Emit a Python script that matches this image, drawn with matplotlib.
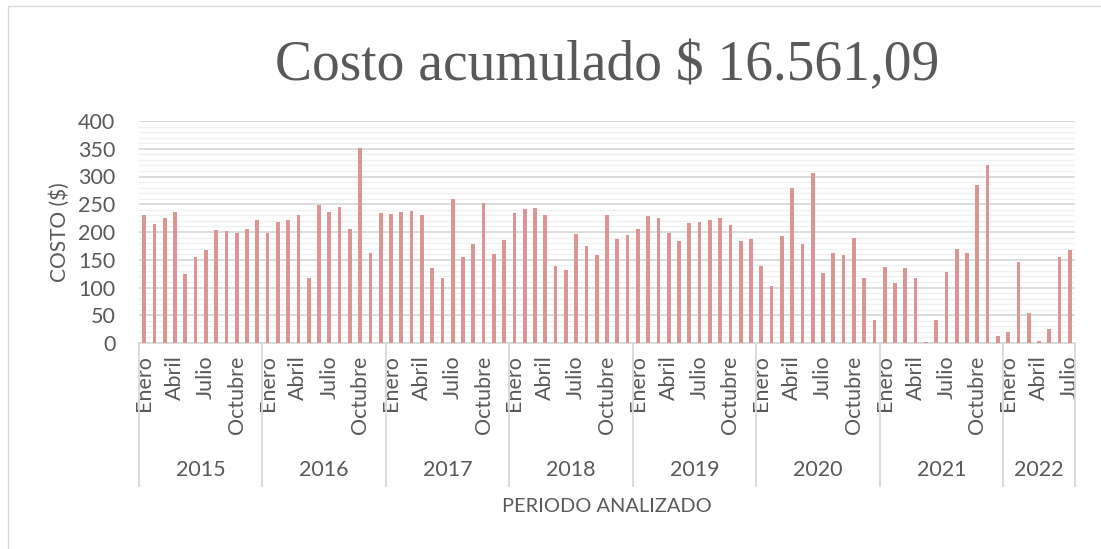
import matplotlib
matplotlib.use("Agg")
import matplotlib.pyplot as plt
from matplotlib.patches import Rectangle
import matplotlib.transforms as mtransforms
import numpy as np

years = ["2015", "2016", "2017", "2018", "2019", "2020", "2021", "2022"]
months = ["Enero", "Febrero", "Marzo", "Abril", "Mayo", "Junio", "Julio",
          "Agosto", "Septiembre", "Octubre", "Noviembre", "Diciembre"]
months_per_year = [12, 12, 12, 12, 12, 12, 12, 7]

cost_2015 = [231, 214.5, 225, 236, 124, 155, 167, 203, 201, 199, 205, 222]
cost_2016 = [198, 217.5, 221, 230, 118, 248, 236, 245, 205, 352, 163, 234]
cost_2017 = [232, 236, 238, 230, 135, 118, 259, 155, 178, 253, 160, 185]
cost_2018 = [234, 241, 243.5, 231, 138, 131, 196, 175, 159, 230, 188, 195]
cost_2019 = [205, 228, 225, 198, 184, 216, 218, 221, 225, 213, 184, 187]
cost_2020 = [139, 103, 193, 280, 179, 306, 127, 162, 158, 190, 117, 41]
cost_2021 = [137, 109, 135, 117, 2.4, 42, 128, 170, 162, 285, 321, 13]
cost_2022 = [20.5, 146, 54, 4, 25, 155, 167]

title = "Costo acumulado $ 16.561,09"
ylabel = "COSTO ($)"
xlabel = "PERIODO ANALIZADO"
shown_months = ["Enero", "Abril", "Julio", "Octubre"]

values = (cost_2015 + cost_2016 + cost_2017 + cost_2018 + cost_2019 +
          cost_2020 + cost_2021 + cost_2022)
labels = []
for y, n in zip(years, months_per_year):
    labels += months[:n]
x = np.arange(len(values))

TXT = "#595959"
BAR = "#D99694"
SANS = ["Lato", "DejaVu Sans"]
FS = 15.5

W, H = 1101, 549
fig = plt.figure(figsize=(W / 100, H / 100), dpi=100)
fig.patches.append(Rectangle((8 / W, -0.1), 1.2, 1 - 6 / H + 0.1,
                             transform=fig.transFigure, fill=False,
                             edgecolor="#D9D9D9", linewidth=1.0))

ax = fig.add_axes([139 / W, 1 - 343 / H, (1075 - 139) / W, (343 - 121) / H])
ax.bar(x, values, width=0.36, color=BAR, zorder=3)
ax.set_xlim(-0.5, len(values) - 0.5)
ax.set_ylim(0, 400)
ax.set_yticks(np.arange(0, 401, 50))
ax.set_yticks(np.arange(0, 401, 10), minor=True)
ax.grid(axis="y", which="major", color="#D9D9D9", linewidth=1.3, zorder=1)
ax.grid(axis="y", which="minor", color="#F0F0F0", linewidth=1.0, zorder=0)
ax.tick_params(axis="y", which="both", length=0, pad=17, labelsize=FS,
               labelcolor=TXT)
for t in ax.get_yticklabels():
    t.set_fontfamily(SANS)
for s in ["left", "right", "top"]:
    ax.spines[s].set_visible(False)
ax.spines["bottom"].set_color("#D9D9D9")
ax.spines["bottom"].set_linewidth(1.3)

idx = [i for i, m in enumerate(labels) if m in shown_months]
ax.set_xticks(idx)
ax.set_xticklabels([labels[i] for i in idx], rotation=90, fontsize=FS,
                   color=TXT, family=SANS, va="top", ha="center")
ax.tick_params(axis="x", length=0, pad=9)

trans = mtransforms.blended_transform_factory(ax.transData, ax.transAxes)
bot = (343 - 486) / (343 - 121)
start = -0.5
for y, n in zip(years, months_per_year):
    ax.plot([start, start], [0, bot], transform=trans, color="#D9D9D9",
            linewidth=1.3, clip_on=False, zorder=2)
    ax.text(start + n / 2, (343 - 470) / (343 - 121), y, transform=trans,
            ha="center", va="center", fontsize=FS, color=TXT, family=SANS)
    start += n
ax.plot([start, start], [0, bot], transform=trans, color="#D9D9D9",
        linewidth=1.3, clip_on=False, zorder=2)

fig.text(607 / W, 1 - 507 / H, xlabel, ha="center", va="center",
         fontsize=14.4, color=TXT, family=SANS)
fig.text(60 / W, 1 - 232 / H, ylabel, ha="center", va="center", rotation=90,
         fontsize=15, color=TXT, family=SANS)
fig.text(607 / W, 1 - 66 / H, title, ha="center", va="center",
         fontsize=40, color=TXT, family=["Liberation Serif", "DejaVu Serif"])

fig.savefig("out.png", dpi=100, facecolor="white")
